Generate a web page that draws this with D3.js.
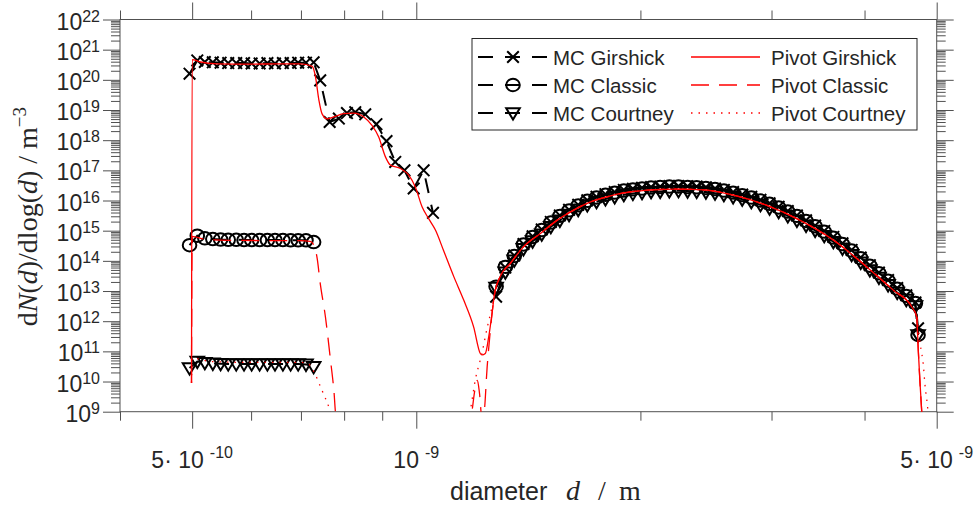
<!DOCTYPE html>
<html>
<head>
<meta charset="utf-8">
<script src="https://cdn.jsdelivr.net/npm/d3@7"></script>
<style>
  body { margin: 0; background: #fff; }
  svg text { font-family: "Liberation Sans", Arial, sans-serif; fill: #262626; }
</style>
</head>
<body>
<div id="canvas"></div>
<script>
// ---------- data ----------
// MC grid, left plateau (shared by all three MC series)
var mcLeftD = [4.96e-10, 5.08e-10, 5.20e-10, 5.33e-10, 5.46e-10, 5.59e-10, 5.73e-10, 5.87e-10, 6.01e-10,
               6.16e-10, 6.31e-10, 6.46e-10, 6.62e-10, 6.78e-10, 6.94e-10, 7.11e-10, 7.28e-10];
var mcGirshickLeft = [1.6e20, 4.4e20, 3.9e20, 3.8e20, 3.7e20, 3.6e20, 3.6e20, 3.6e20, 3.5e20,
                      3.5e20, 3.6e20, 3.5e20, 3.6e20, 3.6e20, 3.7e20, 3.7e20, 3.8e20];
var mcClassicLeft = [3.3e14, 6.8e14, 5.6e14, 5.3e14, 5.1e14, 5.0e14, 5.0e14, 4.9e14, 4.9e14,
                     4.9e14, 4.9e14, 4.9e14, 4.9e14, 4.8e14, 4.8e14, 4.8e14, 4.2e14];
var mcCourtneyLeft = [2.8e10, 4.6e10, 4.2e10, 4.0e10, 3.9e10, 3.8e10, 3.8e10, 3.8e10, 3.8e10,
                      3.8e10, 3.8e10, 3.8e10, 3.8e10, 3.8e10, 3.8e10, 3.7e10, 3.1e10];

// MC Girshick only, middle part
var mcMidD = [7.43e-10, 7.65e-10, 7.87e-10, 8.07e-10, 8.28e-10, 8.54e-10, 8.84e-10, 9.12e-10,
              9.37e-10, 9.64e-10, 9.92e-10, 1.023e-9, 1.053e-9];
var mcGirshickMid = [9.6e19, 4.0e18, 5.2e18, 7.9e18, 8.5e18, 7.2e18, 3.4e18, 9.3e17,
                     1.9e17, 1.0e17, 2.5e16, 1.0e17, 3.9e15];

// MC grid, right hump
var mcHumpD = [1.280e-9, 1.317e-9, 1.354e-9, 1.393e-9, 1.433e-9, 1.474e-9, 1.516e-9, 1.559e-9,
               1.604e-9, 1.650e-9, 1.697e-9, 1.746e-9, 1.795e-9, 1.847e-9, 1.900e-9, 1.954e-9,
               2.010e-9, 2.067e-9, 2.126e-9, 2.187e-9, 2.250e-9, 2.314e-9, 2.380e-9, 2.449e-9,
               2.519e-9, 2.589e-9, 2.664e-9, 2.740e-9, 2.818e-9, 2.899e-9, 2.982e-9, 3.067e-9,
               3.155e-9, 3.245e-9, 3.338e-9, 3.433e-9, 3.531e-9, 3.632e-9, 3.736e-9, 3.843e-9,
               3.953e-9, 4.066e-9, 4.182e-9, 4.302e-9, 4.425e-9, 4.551e-9, 4.682e-9, 4.720e-9];
var mcGirshickHump = [6.5e12, 6.0e13, 1.5e14, 3.6e14, 6.5e14, 1.1e15, 1.95e15, 3.2e15,
                      4.9e15, 7.2e15, 1.02e16, 1.32e16, 1.62e16, 1.9e16, 2.24e16, 2.45e16,
                      2.63e16, 2.8e16, 2.9e16, 3.0e16, 3.0e16, 2.95e16, 2.9e16, 2.75e16,
                      2.5e16, 2.24e16, 1.9e16, 1.58e16, 1.32e16, 1.05e16, 8.1e15, 6.2e15,
                      4.5e15, 3.2e15, 2.2e15, 1.48e15, 9.8e14, 6.2e14, 3.8e14, 2.3e14,
                      1.29e14, 7.2e13, 4.1e13, 2.3e13, 1.26e13, 7.2e12, 4.2e12, 5.8e11];
var mcClassicHump = [1.4e13, 6.3e13, 1.45e14, 3.5e14, 6.2e14, 1.05e15, 1.86e15, 3.1e15,
                     4.7e15, 6.9e15, 9.8e15, 1.26e16, 1.55e16, 1.82e16, 2.14e16, 2.34e16,
                     2.5e16, 2.7e16, 2.8e16, 2.9e16, 2.9e16, 2.8e16, 2.75e16, 2.6e16,
                     2.4e16, 2.14e16, 1.82e16, 1.51e16, 1.26e16, 1.0e16, 7.8e15, 5.9e15,
                     4.3e15, 3.1e15, 2.1e15, 1.41e15, 9.3e14, 5.9e14, 3.6e14, 2.2e14,
                     1.23e14, 6.9e13, 3.9e13, 2.2e13, 1.2e13, 6.9e12, 4.0e12, 3.5e11];
var mcCourtneyHump = [1.3e13, 4.2e13, 1.05e14, 2.5e14, 4.5e14, 7.6e14, 1.35e15, 2.2e15,
                      3.4e15, 5.0e15, 7.1e15, 9.1e15, 1.12e16, 1.32e16, 1.55e16, 1.7e16,
                      1.82e16, 1.95e16, 2.0e16, 2.07e16, 2.1e16, 2.05e16, 2.0e16, 1.9e16,
                      1.74e16, 1.55e16, 1.32e16, 1.1e16, 9.1e15, 7.2e15, 5.6e15, 4.3e15,
                      3.1e15, 2.2e15, 1.5e15, 1.02e15, 6.8e14, 4.3e14, 2.6e14, 1.6e14,
                      8.9e13, 5.0e13, 2.8e13, 1.6e13, 8.9e12, 5.2e12, 3.2e12, 3.5e11];

// pivot method, left parts
var pivGirshickHeadD = [4.99e-10, 5.00e-10, 5.13e-10, 5.4e-10, 6.0e-10, 6.5e-10, 6.99e-10, 7.25e-10,
                        7.32e-10, 7.40e-10, 7.47e-10, 7.59e-10, 7.75e-10, 7.99e-10, 8.24e-10, 8.50e-10,
                        8.72e-10, 8.90e-10, 9.09e-10, 9.23e-10, 9.52e-10, 9.77e-10, 9.97e-10, 1.018e-9,
                        1.039e-9, 1.061e-9, 1.088e-9, 1.123e-9, 1.158e-9, 1.194e-9, 1.219e-9, 1.225e-9,
                        1.238e-9, 1.251e-9, 1.264e-9];
var pivGirshickHeadN = [9e9, 4.7e20, 3.9e20, 3.4e20, 3.3e20, 3.4e20, 3.4e20, 2.8e20,
                        1.3e20, 2.1e19, 7.6e18, 5.1e18, 5.9e18, 7.6e18, 7.9e18, 5.9e18,
                        3.1e18, 1.3e18, 2.8e17, 1.5e17, 1.15e17, 6.9e16, 2.8e16, 6.2e15,
                        2.5e15, 1.05e15, 2.2e14, 3.0e13, 5.0e12, 6.5e11, 8.5e10, 7.6e10,
                        8.5e10, 3.0e11, 1.8e12];
var pivClassicHeadD = [4.99e-10, 5.00e-10, 5.2e-10, 5.6e-10, 6.5e-10, 7.0e-10, 7.2e-10, 7.30e-10,
                       7.36e-10, 7.43e-10, 7.55e-10, 7.67e-10, 7.75e-10, 7.80e-10,
                       1.180e-9, 1.200e-9, 1.208e-9, 1.216e-9, 1.226e-9, 1.234e-9, 1.245e-9, 1.255e-9, 1.264e-9];
var pivClassicHeadN = [9e9, 6.5e14, 5.2e14, 4.8e14, 4.7e14, 4.7e14, 4.4e14, 3.0e14,
                       1.2e14, 1.8e13, 1.4e12, 5.1e10, 5.2e9, 8e8,
                       5e8, 6e9, 1.1e10, 4e9, 5e8, 1.0e9, 3e10, 3e11, 1.8e12];
var pivCourtneyHeadD = [4.99e-10, 5.00e-10, 5.3e-10, 6.0e-10, 7.0e-10, 7.15e-10, 7.28e-10, 7.45e-10,
                        7.65e-10, 7.72e-10,
                        1.175e-9, 1.182e-9, 1.200e-9, 1.225e-9, 1.245e-9, 1.264e-9];
var pivCourtneyHeadN = [9e9, 6e10, 4.6e10, 4.3e10, 4.3e10, 4.0e10, 2.2e10, 6e9,
                        1.2e9, 6e8,
                        5e8, 1.1e9, 1.1e10, 8.5e10, 6e11, 3.0e12];

// pivot method, hump (the three curves coincide here)
var pivHumpD = [1.273e-9, 1.296e-9, 1.337e-9, 1.393e-9, 1.468e-9, 1.545e-9, 1.627e-9, 1.712e-9,
                1.803e-9, 1.898e-9, 1.999e-9, 2.104e-9, 2.216e-9, 2.333e-9, 2.457e-9, 2.667e-9,
                2.957e-9, 3.278e-9, 3.632e-9, 4.027e-9, 4.372e-9, 4.628e-9, 4.700e-9];
var pivHumpN = [7.2e12, 3.0e13, 8.1e13, 2.9e14, 8.1e14, 2.2e15, 4.8e15, 8.9e15,
                1.32e16, 1.78e16, 2.1e16, 2.3e16, 2.4e16, 2.35e16, 2.2e16, 1.5e16,
                6.9e15, 2.2e15, 4.9e14, 6.3e13, 1.07e13, 3.0e12, 1.4e12];

// pivot method, right tails
var pivTailD = [4.723e-9, 4.749e-9, 4.774e-9, 4.79e-9];
var pivTailN = [1.1e11, 8.7e9, 1e9, 3e8];
var pivCourtneyTailD = [4.75e-9, 4.80e-9, 4.82e-9, 4.86e-9, 4.88e-9];
var pivCourtneyTailN = [1.8e11, 3.1e10, 8.7e9, 1.5e9, 5e8];

// axes
var xMajor = [5e-10, 1e-9, 5e-9];
var xMajorLabels = [["5\u00b7 10", "-10"], ["10", "-9"], ["5\u00b7 10", "-9"]];
var xMinor = [4e-10, 6e-10, 7e-10, 8e-10, 9e-10, 2e-9, 3e-9, 4e-9];
var yExponents = [9, 10, 11, 12, 13, 14, 15, 16, 17, 18, 19, 20, 21, 22];

// ---------- helpers ----------
function zip(ds, ns) { return ds.map(function(d, i){ return [d, ns[i]]; }); }

var mcGirshick = zip(mcLeftD, mcGirshickLeft).concat(zip(mcMidD, mcGirshickMid), [[1.1e-9, null]], zip(mcHumpD, mcGirshickHump));
var mcClassic = zip(mcLeftD, mcClassicLeft).concat([[1.0e-9, null]], zip(mcHumpD, mcClassicHump));
var mcCourtney = zip(mcLeftD, mcCourtneyLeft).concat([[1.0e-9, null]], zip(mcHumpD, mcCourtneyHump));
var pivGirshick = zip(pivGirshickHeadD, pivGirshickHeadN).concat(zip(pivHumpD, pivHumpN), zip(pivTailD, pivTailN));
var pivClassic = zip(pivClassicHeadD, pivClassicHeadN).concat(zip(pivHumpD, pivHumpN), zip(pivTailD, pivTailN));
var pivCourtney = zip(pivCourtneyHeadD, pivCourtneyHeadN).concat(zip(pivHumpD, pivHumpN), zip(pivCourtneyTailD, pivCourtneyTailN));

// ---------- drawing ----------
var width = 980, height = 511;
var plot = {left: 120, right: 936.7, top: 19.5, bottom: 411.7};
var axisColor = "#505050";

var svg = d3.select("#canvas").append("svg")
    .attr("width", width).attr("height", height);

var x = d3.scaleLog().domain([4e-10, 5e-9]).range([plot.left, plot.right]);
var y = d3.scaleLog().domain([1e9, 1e22]).range([plot.bottom, plot.top]);

svg.append("clipPath").attr("id", "clip")
    .append("rect")
    .attr("x", plot.left).attr("y", plot.top)
    .attr("width", plot.right - plot.left).attr("height", plot.bottom - plot.top);

// ticks (outward, all four sides)
var yMajor = yExponents.map(function(e){ return Math.pow(10, e); });
var yMinor = [];
for (var e = 9; e < 22; e++) {
    for (var m = 2; m <= 9; m++) yMinor.push(m * Math.pow(10, e));
}

function tickAxis(axis, transform) {
    var g = svg.append("g").attr("transform", transform).call(axis);
    g.select(".domain").remove();
    g.selectAll("text").remove();
    g.selectAll("line").attr("stroke", axisColor).attr("stroke-width", 1);
}
tickAxis(d3.axisBottom(x).tickValues(xMajor).tickSize(17), "translate(0," + plot.bottom + ")");
tickAxis(d3.axisBottom(x).tickValues(xMinor).tickSize(9), "translate(0," + plot.bottom + ")");
tickAxis(d3.axisTop(x).tickValues(xMajor).tickSize(17), "translate(0," + plot.top + ")");
tickAxis(d3.axisTop(x).tickValues(xMinor).tickSize(9), "translate(0," + plot.top + ")");
tickAxis(d3.axisLeft(y).tickValues(yMajor).tickSize(17), "translate(" + plot.left + ",0)");
tickAxis(d3.axisLeft(y).tickValues(yMinor).tickSize(9), "translate(" + plot.left + ",0)");
tickAxis(d3.axisRight(y).tickValues(yMajor).tickSize(17), "translate(" + plot.right + ",0)");
tickAxis(d3.axisRight(y).tickValues(yMinor).tickSize(9), "translate(" + plot.right + ",0)");

svg.append("rect")
    .attr("x", plot.left).attr("y", plot.top)
    .attr("width", plot.right - plot.left).attr("height", plot.bottom - plot.top)
    .attr("fill", "none").attr("stroke", axisColor).attr("stroke-width", 1);

// tick labels
yExponents.forEach(function(e) {
    var t = svg.append("text")
        .attr("x", 100).attr("y", y(Math.pow(10, e)) + 10)
        .attr("text-anchor", "end")
        .style("font-size", "23px");
    t.append("tspan").text("10");
    t.append("tspan").attr("dy", -8).style("font-size", "16px").text(e);
});
xMajor.forEach(function(v, i) {
    var t = svg.append("text")
        .attr("x", x(v)).attr("y", 468)
        .attr("text-anchor", "middle")
        .style("font-size", "23px");
    t.append("tspan").text(xMajorLabels[i][0]);
    t.append("tspan").attr("dx", 6).attr("dy", -10).style("font-size", "16px").text(xMajorLabels[i][1]);
});

// axis titles
var serif = "'Liberation Serif', 'Times New Roman', serif";
var xl = svg.append("text").attr("x", 450).attr("y", 500).style("font-size", "25px");
xl.append("tspan").text("diameter");
xl.append("tspan").attr("x", 566).style("font-family", serif).style("font-style", "italic").style("font-size", "28px").text("d");
xl.append("tspan").attr("x", 598).style("font-family", serif).style("font-size", "28px").text("/");
xl.append("tspan").attr("x", 619).style("font-family", serif).style("font-size", "28px").text("m");

var yl = svg.append("text")
    .attr("transform", "translate(37," + ((plot.top + plot.bottom) / 2 + 1) + ") rotate(-90)")
    .attr("text-anchor", "middle")
    .style("font-family", serif).style("font-size", "28px");
yl.append("tspan").text("d");
yl.append("tspan").style("font-style", "italic").text("N");
yl.append("tspan").text("(");
yl.append("tspan").style("font-style", "italic").text("d");
yl.append("tspan").text(")/dlog(");
yl.append("tspan").style("font-style", "italic").text("d");
yl.append("tspan").text(") / m");
yl.append("tspan").attr("dy", -11).style("font-size", "19px").text("\u22123");

// markers
function markerX(g, cx, cy) {
    g.append("path")
        .attr("d", "M" + (cx - 5.8) + "," + (cy - 5.8) + "L" + (cx + 5.8) + "," + (cy + 5.8) +
                   "M" + (cx - 5.8) + "," + (cy + 5.8) + "L" + (cx + 5.8) + "," + (cy - 5.8))
        .attr("fill", "none").attr("stroke", "#000").attr("stroke-width", 2);
}
function markerO(g, cx, cy) {
    g.append("ellipse").attr("cx", cx).attr("cy", cy).attr("rx", 6.8).attr("ry", 6.2)
        .attr("fill", "none").attr("stroke", "#000").attr("stroke-width", 2);
}
function markerV(g, cx, cy) {
    g.append("path")
        .attr("d", "M" + (cx - 6.8) + "," + (cy - 4.8) + "L" + (cx + 6.8) + "," + (cy - 4.8) +
                   "L" + cx + "," + (cy + 6.6) + "Z")
        .attr("fill", "none").attr("stroke", "#000").attr("stroke-width", 2);
}

var data = svg.append("g").attr("clip-path", "url(#clip)");

var mcLine = d3.line()
    .defined(function(p){ return p[1] != null; })
    .x(function(p){ return x(p[0]); })
    .y(function(p){ return y(p[1]); });
var pivLine = d3.line()
    .x(function(p){ return x(p[0]); })
    .y(function(p){ return y(p[1]); })
    .curve(d3.curveMonotoneX);

var mcSeries = [
    {pts: mcGirshick, marker: markerX},
    {pts: mcClassic, marker: markerO},
    {pts: mcCourtney, marker: markerV}
];
mcSeries.forEach(function(s) {
    data.append("path").attr("d", mcLine(s.pts))
        .attr("fill", "none").attr("stroke", "#000").attr("stroke-width", 2)
        .attr("stroke-dasharray", "15,12");
    var mg = data.append("g");
    s.pts.filter(function(p){ return p[1] != null; }).forEach(function(p) {
        s.marker(mg, x(p[0]), y(p[1]));
    });
});

var pivSeries = [
    {pts: pivGirshick, dash: null},
    {pts: pivClassic, dash: "18,10"},
    {pts: pivCourtney, dash: "1.5,6"}
];
pivSeries.forEach(function(s) {
    data.append("path").attr("d", pivLine(s.pts))
        .attr("fill", "none").attr("stroke", "#ff0000").attr("stroke-width", 1.3)
        .attr("stroke-dasharray", s.dash);
});

// legend
var lg = svg.append("g");
lg.append("rect").attr("x", 472).attr("y", 38.5).attr("width", 445).attr("height", 91.5)
    .attr("fill", "#fff").attr("stroke", "#262626").attr("stroke-width", 1);
var mcNames = ["MC Girshick", "MC Classic", "MC Courtney"];
var pivNames = ["Pivot Girshick", "Pivot Classic", "Pivot Courtney"];
var mcMarks = [markerX, markerO, markerV];
var pivDash = [null, "18,10", "1.5,6"];
[57, 85, 113].forEach(function(ry, i) {
    lg.append("line").attr("x1", 478).attr("x2", 548).attr("y1", ry).attr("y2", ry)
        .attr("stroke", "#000").attr("stroke-width", 2).attr("stroke-dasharray", "15,12");
    mcMarks[i](lg, 513, ry);
    lg.append("text").attr("x", 553).attr("y", ry + 7.5).style("font-size", "20.5px").text(mcNames[i]);
    lg.append("line").attr("x1", 691).attr("x2", 760).attr("y1", ry).attr("y2", ry)
        .attr("stroke", "#ff0000").attr("stroke-width", 1.3).attr("stroke-dasharray", pivDash[i]);
    lg.append("text").attr("x", 771).attr("y", ry + 7.5).style("font-size", "20.5px").text(pivNames[i]);
});
</script>
</body>
</html>
